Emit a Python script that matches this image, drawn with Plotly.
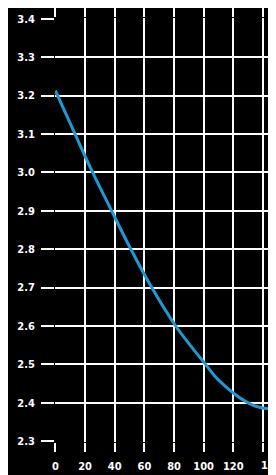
import plotly.graph_objects as go

x_vals = [0, 1.5, 13.2, 25.1, 37.9, 50.9, 65.0, 81.1, 101.3, 109.6, 129.9, 142.5, 148.8]
y_vals = [3.213, 3.2, 3.1, 3.0, 2.9, 2.8, 2.7, 2.6, 2.5, 2.461, 2.4, 2.385, 2.388]

x_ticks = [0, 20, 40, 60, 80, 100, 120, 140]
x_tick_labels = ["0", "20", "40", "60", "80", "100", "120", "140"]
y_ticks = [2.3, 2.4, 2.5, 2.6, 2.7, 2.8, 2.9, 3.0, 3.1, 3.2, 3.3, 3.4]

fig = go.Figure()
fig.add_trace(go.Scatter(
    x=x_vals, y=y_vals, mode="lines",
    line=dict(color="#1b9ad6", width=3, shape="spline", smoothing=1.0),
    hoverinfo="skip", showlegend=False,
))

font = dict(family="DejaVu Sans Condensed, Liberation Sans Narrow, Liberation Sans",
            size=11, color="white", weight="bold")

# the last x label sits shifted to the right edge (only partly visible)
shown = [t if v != 140 else "" for v, t in zip(x_ticks, x_tick_labels)]
fig.add_annotation(
    x=140, y=0, xref="x", yref="paper", yanchor="top", xanchor="center",
    text=x_tick_labels[-1], showarrow=False, font=font,
    xshift=9, yshift=-15,
)

fig.update_layout(
    width=268, height=467,
    margin=dict(l=47, r=0, t=10, b=33),
    paper_bgcolor="black", plot_bgcolor="black",
    font=font,
    xaxis=dict(
        range=[-0.3, 148.8], tickvals=x_ticks, ticktext=shown,
        showgrid=True, gridcolor="white", gridwidth=1.5,
        zeroline=False, showline=False,
        ticks="outside", ticklen=9, tickwidth=1.5, tickcolor="white",
        mirror="ticks", tickfont=font, fixedrange=True, ticklabelstandoff=5,
    ),
    yaxis=dict(
        range=[2.298, 3.402], tickvals=y_ticks, ticktext=[f"{v:.1f}" for v in y_ticks],
        showgrid=True, gridcolor="white", gridwidth=1.5,
        zeroline=False, showline=False,
        ticks="outside", ticklen=13, tickwidth=1.5, tickcolor="white",
        tickfont=font, fixedrange=True, ticklabelstandoff=4,
    ),
)

fig.write_html("out.html")
